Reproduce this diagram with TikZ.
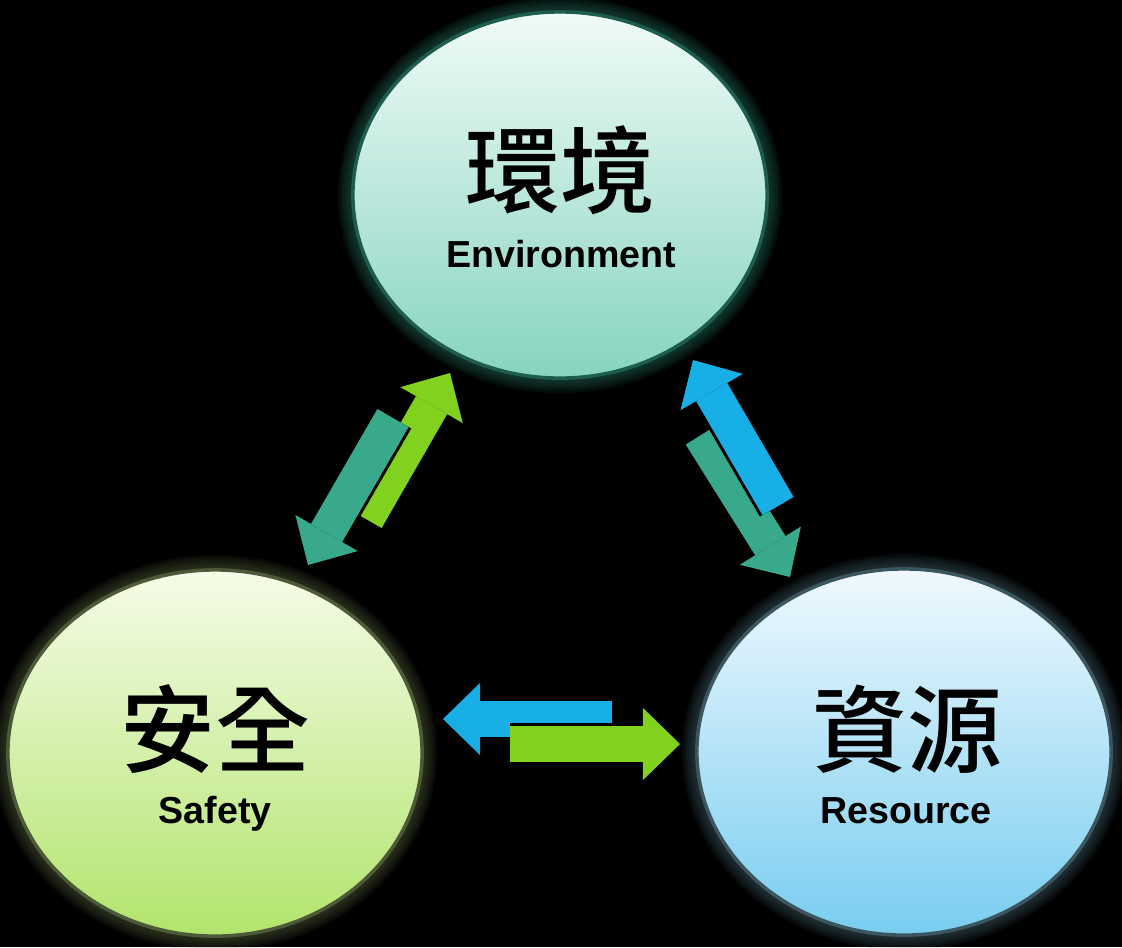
\documentclass[tikz,border=0pt]{standalone}
\usepackage{fontspec}
\setmainfont{Liberation Sans}
\newfontfamily\cjk{Noto Sans CJK TC Medium}
\usetikzlibrary{arrows.meta,shapes.geometric}

\definecolor{envtop}{HTML}{F0FBF8}
\definecolor{envmid}{HTML}{B2E7D9}
\definecolor{envbot}{HTML}{86D4BF}
\definecolor{envline}{HTML}{1E5C4C}
\definecolor{saftop}{HTML}{F5FCE8}
\definecolor{safmid}{HTML}{D4F1A6}
\definecolor{safbot}{HTML}{B2E46C}
\definecolor{safline}{HTML}{4C5A38}
\definecolor{restop}{HTML}{F0F9FE}
\definecolor{resmid}{HTML}{B6E3F7}
\definecolor{resbot}{HTML}{78CDF0}
\definecolor{resline}{HTML}{3C5660}
\definecolor{flowteal}{HTML}{38A98A}
\definecolor{flowgreen}{HTML}{80D21F}
\definecolor{flowblue}{HTML}{17AFE6}

\begin{document}
\begin{tikzpicture}[x=0.01cm, y=-0.01cm,
        hub/.style={ellipse, minimum width=4.14cm, minimum height=3.66cm, line width=1pt, inner sep=0pt},
        zh/.style={font=\cjk\fontsize{27}{30}\selectfont},
        en/.style={anchor=base, font=\bfseries\fontsize{10.7}{12}\selectfont},
        flow/.style={line width=0.36cm, -{Triangle[length=0.37cm, width=0.72cm, line width=0pt]}},
        flowback/.style={black, line width=0.42cm, -{Triangle[length=0.41cm, width=0.80cm, line width=0pt]}}
    ]
    \fill[black, use as bounding box] (0,0) rectangle (1122,947);

    % soft glow round the three hubs
    \foreach \g in {1,...,6} {
        \fill[envline, opacity=0.14] (560,195) ellipse ({2.07cm+0.025cm*\g} and {1.83cm+0.025cm*\g});
        \fill[safline, opacity=0.12] (215,753) ellipse ({2.07cm+0.025cm*\g} and {1.83cm+0.025cm*\g});
        \fill[resline, opacity=0.12] (904,752) ellipse ({2.07cm+0.025cm*\g} and {1.83cm+0.025cm*\g});
    }

    \node[hub, draw=envline, top color=envtop, middle color=envmid, bottom color=envbot] (env) at (560,195) {};
    \node[hub, draw=safline, top color=saftop, middle color=safmid, bottom color=safbot] (saf) at (215,753) {};
    \node[hub, draw=resline, top color=restop, middle color=resmid, bottom color=resbot] (res) at (904,752) {};

    \node[zh] (envzh) at (560,170) {環境};
    \node[en] (enven) at (561,267) {Environment};
    \node[zh] (safzh) at (215,729) {安全};
    \node[en] (safen) at (215,823) {Safety};
    \node[zh] (reszh) at (907,729) {資源};
    \node[en] (resen) at (906,823) {Resource};

    % arrow ends
    \coordinate (es-tail) at (393,418);
    \coordinate (es-tip) at (308,565);
    \coordinate (se-tail) at (366,519);
    \coordinate (se-tip) at (450,373);
    \coordinate (re-tail) at (778,506);
    \coordinate (re-tip) at (693,360);
    \coordinate (er-tail) at (701,435);
    \coordinate (er-tip) at (790,577);
    \coordinate (rs-tail) at (612,719);
    \coordinate (rs-tip) at (443,719);
    \coordinate (sr-tail) at (510,744);
    \coordinate (sr-tip) at (680,744);

    \draw[flow, flowgreen] (se-tail) -- (se-tip);
    \draw[flowback] (es-tail) -- (es-tip);
    \draw[flow, flowteal] (es-tail) -- (es-tip);

    \draw[flow, flowteal] (er-tail) -- (er-tip);
    \draw[flowback] (re-tail) -- (re-tip);
    \draw[flow, flowblue] (re-tail) -- (re-tip);

    \draw[flow, flowblue] (rs-tail) -- (rs-tip);
    \draw[flowback] (sr-tail) -- (sr-tip);
    \draw[flow, flowgreen] (sr-tail) -- (sr-tip);
\end{tikzpicture}
\end{document}
